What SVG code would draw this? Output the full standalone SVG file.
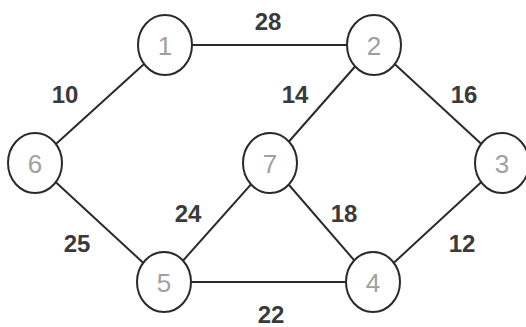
<svg xmlns="http://www.w3.org/2000/svg" width="526" height="327" viewBox="0 0 526 327">
<style>
.edge{stroke:#2a2a2a;stroke-width:2;fill:none}
.node ellipse{fill:#fff;stroke:#2a2a2a;stroke-width:2}
.node text{font-family:"Liberation Sans",Arial,sans-serif;font-size:26px;fill:#a0a0a0;text-anchor:middle}
.w{font-family:"Liberation Sans",Arial,sans-serif;font-size:24px;font-weight:bold;fill:#3a3a3a;text-anchor:middle}
</style>
<rect width="526" height="327" fill="#fff"/>
<g id="connectors">
<line class="edge" x1="165" y1="45" x2="374" y2="45"/>
<line class="edge" x1="165" y1="45" x2="35" y2="163"/>
<line class="edge" x1="374" y1="45" x2="270" y2="163"/>
<line class="edge" x1="374" y1="45" x2="502" y2="163"/>
<line class="edge" x1="35" y1="163" x2="164" y2="282"/>
<line class="edge" x1="270" y1="163" x2="164" y2="282"/>
<line class="edge" x1="270" y1="163" x2="373" y2="282"/>
<line class="edge" x1="502" y1="163" x2="373" y2="282"/>
<line class="edge" x1="164" y1="282" x2="373" y2="282"/>
</g>
<g id="labels">
<text class="w" x="268" y="30">28</text>
<text class="w" x="65" y="103">10</text>
<text class="w" x="295" y="103">14</text>
<text class="w" x="464" y="103">16</text>
<text class="w" x="188" y="222">24</text>
<text class="w" x="344" y="222">18</text>
<text class="w" x="77" y="252">25</text>
<text class="w" x="462" y="252">12</text>
<text class="w" x="271" y="323">22</text>
</g>
<g id="n1" class="node"><ellipse cx="165" cy="45" rx="27" ry="30"/><text x="165" y="55">1</text></g>
<g id="n2" class="node"><ellipse cx="374" cy="45" rx="27" ry="30"/><text x="374" y="55">2</text></g>
<g id="n3" class="node"><ellipse cx="502" cy="163" rx="27" ry="30"/><text x="502" y="173">3</text></g>
<g id="n4" class="node"><ellipse cx="373" cy="282" rx="27" ry="30"/><text x="373" y="292">4</text></g>
<g id="n5" class="node"><ellipse cx="164" cy="282" rx="27" ry="30"/><text x="164" y="292">5</text></g>
<g id="n6" class="node"><ellipse cx="35" cy="163" rx="27" ry="30"/><text x="35" y="173">6</text></g>
<g id="n7" class="node"><ellipse cx="270" cy="163" rx="27" ry="30"/><text x="270" y="173">7</text></g>
</svg>
